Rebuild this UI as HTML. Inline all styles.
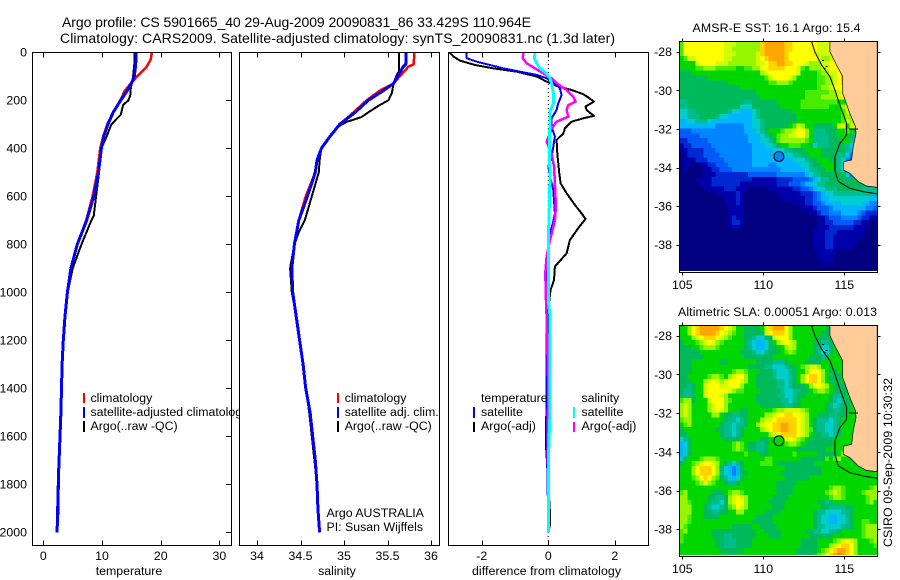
<!DOCTYPE html>
<html>
<head>
<meta charset="utf-8">
<title>Argo profile</title>
<style>
html,body{margin:0;padding:0;background:#fff;}
svg{display:block;font-family:"Liberation Sans",sans-serif;font-size:12.35px;fill:#000;}
.frame{fill:none;stroke:#000;stroke-width:1;shape-rendering:crispEdges;}
.tick{stroke:#000;stroke-width:1;shape-rendering:crispEdges;}
.bar{shape-rendering:crispEdges;}
</style>
</head>
<body>
<svg id="chart" width="900" height="580" viewBox="0 0 900 580" xmlns="http://www.w3.org/2000/svg">
  <defs>
    <clipPath id="clip-sst"><rect x="679.5" y="42" width="198" height="229"/></clipPath>
    <clipPath id="clip-sla"><rect x="679.5" y="326" width="198" height="229"/></clipPath>
    <clipPath id="clip-p1"><rect x="32" y="52" width="199" height="493"/></clipPath>
    <clipPath id="clip-p2"><rect x="239" y="52" width="200" height="493"/></clipPath>
    <clipPath id="clip-p3"><rect x="448" y="52" width="200" height="493"/></clipPath>
  </defs>
  <rect x="0" y="0" width="900" height="580" fill="#fff"/>
  <text x="62" y="27" font-size="14" textLength="469">Argo profile: CS 5901665_40 29-Aug-2009 20090831_86 33.429S 110.964E</text>
  <text x="60" y="43" font-size="14" textLength="555">Climatology: CARS2009. Satellite-adjusted climatology: synTS_20090831.nc (1.3d later)</text>

  <g id="panel-temp">
    <g id="temp-legend">
      <rect class="bar" x="83" y="393" width="2" height="10" fill="#f00"/>
      <text x="90.5" y="402">climatology</text>
      <rect class="bar" x="83" y="407" width="2" height="11" fill="#00f"/>
      <text x="90.5" y="416">satellite-adjusted climatology</text>
      <rect class="bar" x="83" y="421" width="2" height="11" fill="#000"/>
      <text x="90.5" y="430">Argo(..raw -QC)</text>
    </g>
    <g id="temp-marks" clip-path="url(#clip-p1)"></g>
    <rect class="frame" x="32.5" y="52.5" width="199" height="493"/>
    <text x="129" y="575" text-anchor="middle">temperature</text>
  </g>

  <g id="panel-sal">
    <rect x="239.5" y="52.5" width="200" height="493" fill="#fff"/>
    <g id="sal-marks" clip-path="url(#clip-p2)"></g>
    <rect class="frame" x="239.5" y="52.5" width="200" height="493"/>
    <rect class="bar" x="337" y="393" width="2" height="10" fill="#f00"/>
    <text x="344.7" y="402">climatology</text>
    <rect class="bar" x="337" y="407" width="2" height="11" fill="#00f"/>
    <text x="344.7" y="416">satellite adj. clim.</text>
    <rect class="bar" x="337" y="421" width="2" height="11" fill="#000"/>
    <text x="344.7" y="430">Argo(..raw -QC)</text>
    <text x="326.5" y="517">Argo AUSTRALIA</text>
    <text x="326.5" y="531">PI: Susan Wijffels</text>
    <text x="337" y="575" text-anchor="middle">salinity</text>
  </g>

  <g id="panel-diff">
    <rect x="448.5" y="52.5" width="200" height="493" fill="#fff"/>
    <g id="diff-marks" clip-path="url(#clip-p3)"></g>
    <rect class="frame" x="448.5" y="52.5" width="200" height="493"/>
    <text x="481" y="402">temperature</text>
    <rect class="bar" x="473" y="407" width="2" height="11" fill="#00f"/>
    <text x="481" y="416">satellite</text>
    <rect class="bar" x="473" y="422" width="2" height="10" fill="#000"/>
    <text x="481" y="430">Argo(-adj)</text>
    <text x="581.5" y="402">salinity</text>
    <rect class="bar" x="573" y="407" width="2" height="11" fill="#0ff"/>
    <text x="581.5" y="416">satellite</text>
    <rect class="bar" x="573" y="422" width="2" height="10" fill="#f0f"/>
    <text x="581.5" y="430">Argo(-adj)</text>
    <text x="546.5" y="575" text-anchor="middle" textLength="149">difference from climatology</text>
  </g>

  <g id="map-sst">
    <text x="776.5" y="32" text-anchor="middle" textLength="168">AMSR-E SST: 16.1  Argo: 15.4</text>
    <g id="sst-cells" clip-path="url(#clip-sst)"></g>
  </g>
  <g id="map-sla">
    <text x="777.5" y="316" text-anchor="middle" textLength="199">Altimetric SLA: 0.00051  Argo: 0.013</text>
    <g id="sla-cells" clip-path="url(#clip-sla)"></g>
  </g>
  <text transform="translate(892,547) rotate(-90)" textLength="169">CSIRO 09-Sep-2009 10:30:32</text>
</svg>

<script>
// ---------- profile data ----------
const tempDepth = [0,30,60,100,125,160,200,250,300,350,400,500,600,700,800,900,1000,1100,1200,1300,1400,1500,1600,1750,1900,2000];
const tempClim = [18.5,18.3,17.6,16.0,15.1,13.9,13.1,11.9,10.9,10.2,9.7,9.2,8.4,7.3,5.8,4.8,4.1,3.7,3.4,3.2,3.1,3.0,2.85,2.6,2.45,2.35];
const tempSat = [15.8,15.8,15.7,15.5,15.1,14.3,13.2,11.9,11.0,10.3,9.9,9.4,8.6,7.4,5.8,4.7,4.1,3.7,3.4,3.2,3.1,3.0,2.85,2.6,2.45,2.35];
const tempArgoDepth = [0,50,100,125,150,180,200,220,260,300,350,400,500,600,680,700,800,900,1000,1100,1200,1300,1400,1500,1600,1750,1900,2000];
const tempArgo = [15.5,15.5,15.3,15.1,14.9,14.8,14.5,13.6,13.2,11.6,10.8,9.9,9.5,9.0,8.6,8.2,6.5,5.0,4.15,3.7,3.4,3.2,3.1,3.0,2.9,2.65,2.6,2.4];

const salDepth = [0,50,60,100,130,160,200,250,300,350,400,450,500,600,700,800,900,1000,1100,1200,1300,1400,1500,1600,1700,1800,1900,2000];
const salClim = [35.81,35.80,35.74,35.64,35.57,35.41,35.26,35.11,34.95,34.84,34.74,34.69,34.67,34.56,34.48,34.43,34.40,34.41,34.45,34.49,34.53,34.56,34.61,34.64,34.67,34.69,34.70,34.72];
const salSat = [35.71,35.71,35.68,35.62,35.57,35.45,35.28,35.13,34.95,34.84,34.74,34.69,34.67,34.58,34.48,34.43,34.40,34.41,34.45,34.49,34.53,34.56,34.61,34.64,34.67,34.69,34.70,34.72];
const salArgoDepth = [0,80,100,130,170,200,220,250,270,290,310,350,400,450,500,600,700,750,800,900,1000,1100,1200,1300,1400,1500,1600,1700,1800,1900,2000];
const salArgo = [35.63,35.63,35.60,35.57,35.55,35.51,35.41,35.28,35.20,35.03,34.93,34.84,34.74,34.72,34.71,34.63,34.55,34.48,34.43,34.38,34.40,34.45,34.49,34.53,34.56,34.60,34.63,34.66,34.69,34.70,34.72];

const diffTempArgoDepth = [0,18,35,53,67,81,101,122,143,157,174,188,206,226,240,265,275,289,317,338,365,421,504,546,587,636,671,694,733,782,838,893,949,990,1032,1100,1200,1400,1554,1640,1800,1920,1970,2000];
const diffTempArgo = [-2.97,-2.85,-2.65,-2.2,-1.65,-0.95,-0.35,-0.05,0.3,0.7,1.05,1.2,1.37,1.12,1.15,1.37,1.05,0.7,0.5,0.45,0.25,0.27,0.33,0.37,0.55,0.8,1.0,1.12,0.9,0.65,0.55,0.2,0.17,0.07,0.03,0,-0.03,-0.04,-0.07,-0.07,0,0.05,0.05,0];
const diffTempSatDepth = [0,25,39,53,67,81,94,108,129,150,178,212,240,275,310,351,393,435,476,504,574,671,706,754,851,990,1100,1300,1600,1800,2000];
const diffTempSat = [-2.47,-2.45,-2.15,-1.75,-1.35,-0.85,-0.35,-0.05,0.2,0.35,0.4,0.3,0.25,0.1,0.1,0.2,0.15,0.1,0,0.03,0.15,0.2,0.15,0.05,0,-0.05,-0.05,-0.06,-0.05,-0.02,0];
const diffSalArgoDepth = [0,25,46,67,88,108,129,157,185,206,220,240,268,289,317,345,372,421,476,546,643,699,740,782,851,921,1032,1100,1400,1600,1800,2000];
const diffSalArgo = [-0.75,-0.77,-0.65,-0.4,-0.15,0.1,0.25,0.55,0.75,0.82,0.6,0.55,0.6,0.25,0.1,0.03,-0.05,0.1,0.17,0.2,0.23,0.2,0.13,0.05,-0.05,-0.09,-0.07,-0.05,0,-0.02,0,0];
const diffSalSatDepth = [0,25,46,67,88,108,129,171,213,247,296,365,435,504,643,782,1032,1100,1300,1500,1700,2000];
const diffSalSat = [-0.4,-0.42,-0.35,-0.25,-0.05,0.05,0.1,0.15,0.15,0.05,0.05,0.03,0.03,0.05,0.03,0,0,0.05,0.05,0.05,0,0];

// ---------- tick labels ----------
const depthTicks = [0,200,400,600,800,1000,1200,1400,1600,1800,2000];
const tempTicks = [0,10,20,30];
const salTicks = [34,34.5,35,35.5,36];
const diffTicks = [-2,0,2];
const lonTicks = [105,110,115];
const latTicks = [-28,-30,-32,-34,-36,-38];

// ---------- float position ----------
const floatLon = 110.964;
const floatLat = -33.429;

// ---------- coast, isobath and islets (lon, lat) ----------
const coastLon = [114.11,114.11,114.52,114.9,114.9,115.34,115.69,115.72,115.55,115.45,114.97,114.93,115.34,115.86,116.37,117.03,117.03];
const coastLat = [-27.48,-28.0,-28.69,-29.29,-30.16,-31.19,-31.88,-32.23,-32.92,-33.61,-33.70,-34.13,-34.30,-34.73,-34.96,-35.03,-27.48];
const isoLon = [112.98,113.18,113.6,114.11,114.42,114.73,115.14,115.14,114.73,114.42,114.42,114.63,115.34,116.17,117.03];
const isoLat = [-27.48,-28.0,-28.69,-29.29,-29.98,-30.76,-31.71,-32.32,-32.75,-33.44,-34.13,-34.73,-35.08,-35.25,-35.37];
const isletLon = [113.62,113.72,113.85,115.3,115.42,115.55,115.72];
const isletLat = [-28.42,-28.85,-28.75,-31.97,-31.97,-31.97,-31.97];

// ---------- heatmap levels, one character per 0.25 degree cell ----------
const levelColors = {
  '0':'#000080','1':'#0000aa','2':'#0028d2','3':'#005af5','4':'#0084ff','5':'#00b4ff',
  '6':'#00cdcd','7':'#00be8c','8':'#00b95a','9':'#00d700','a':'#46eb00','b':'#96f500',
  'c':'#d2ff00','d':'#ffff00','e':'#ffd200','f':'#ffa500','g':'#ff7800'
};
const sstRows = [
"addddddddddcccbbbbbbefffffeeddddddcccddddddddddd",
"addddddddddccbbbbbbbefffffeeddddddcccddddddddddd",
"addddddddddcccbbbbbcefffffeddddddcccccddddddddd",
"9accdddddddccbbbbbbcdeffffedddddddcbbccddddddd",
"9999cddddcccbbbbbbbccdeeffeedddcbbbccddddddddd",
"9999aabbbaaaaa99aabbddeeeedddca9bbbccdddddd",
"88899999999999999999bcdddddddc9999abbccdeeeee",
"888888899999999999999acddddcb99999aabbcdeeeee",
"8888888888889999999999aabbba999999aabbcdeeeee",
"8888888888888889999999999999999999abbcddddd",
"8888888888888888888999999999999aaaaaabbcddddd",
"8888888888888888888899999999999aaaabbbbcddddd",
"778888888888888877888888999999aaaaaaaaa99ccdddddd",
"778888888888888666888888899999aaaaaaa999bccdddddd",
"6677888888887665556788888888999999999999accbb9999",
"6677788887665555556788888888899999999999abba99999",
"5566777655555555556678888888899999999999acb999999",
"5555555554444444556678888889acb99888889cc9cc99999",
"3334444444444444555678999abbcddb977788899a9899999",
"333334444444444445556789abbccddb97777889998799999",
"223333344444444445556678abbbbbba97777888997699999",
"122333334444444444555667899aaa9986777888876599999",
"1122223334444444445555566677888999988888875499999",
"0122223333444444445555555666778899988887764399999",
"0111222333344444445555555555666788999887643299999",
"0110011223334444445555445555556678899987654399999",
"0100001122333444444444444555555677889987654399999",
"0000001112222222233333334444444567788888864444444",
"0000111122222222221111112222333345677888888888877",
"0000011122222221111111112223334556778888888888877",
"0000001111122211100000111111223345667778888887777",
"0000000001111121000000001111112223456677777777777",
"0000000000011121000000000111111223455666666666655",
"0000000000001121000000000000111223345555666665544",
"0000000000001111000000000000001112333455555555443",
"0000000000001111000000000000000011233444555543222",
"0000000000001211000000000000000000112333444432211",
"0000000000001221000000000000000000112233333221100",
"0000000000000110000000000000000000111222222111000",
"0000000000000000000000000000000001112221111111000",
"0000000000000000000000000000000001112211111110000",
"0000000000000000000000000000000001112211111100000",
"0000000000000000000000000000000001112211111000000",
"0000000000000000000000000000000000111110000000000",
"0000000000000000000000000000000000111100000000000",
"0000000000000000000000000000000000011100000000000",
"0000000000000000000000000000000000000000000000000",
"0000000000000000000000000000000000000000000000000"
];
const slaRows = [
"99bdefffffedcb9988889cefffdb999999998999999999999",
"99bdeffffedcba9988888cdeeedb999999988999999999999",
"999bcdeeedcba9998876688cdddb999999888999999999999",
"8999abcdcba9999987655689bcdcb99998877899999999999",
"88899abbba9999998765568899bcb99998766899999999999",
"88888999999999988876678889aba99998766899999999999",
"88888899999999998888888999999999888789999999999",
"888999999988999999988887778999988889999999999999",
"888999999999999998888776667889abccb99899999999999",
"8889999999999abba99988876667899bdddb9889999999999",
"8899999abba9bcddb9988887666789bdeedb9888999999999",
"888999bcdcbcdddcb9988888776789bdeedb9888999999999",
"887899cdddccdddb9998888877678889bddcb988899999999",
"877899cdddddcbaa99998888876677889abba988889999999",
"877899cdddcb99999998888877667889999998778999999",
"abb8999cdddba99999988888877678999999987678899999",
"bcb9999bcddb99999999888888778899999987678899999",
"bcb9999bcdcb99988999999abbccccba99998877889999999",
"bcb99999bb98877889999bbcddeeddcb9988877889999999",
"abb99999999877678999bccdeeeeedcb987776789999999",
"9ab9999999877677899bcddeeffeedcb987766789999999",
"89999999988776789999bcdeeffeedcba87766789999999",
"8899999999877678999999bcdeeeedcb9887767899999999",
"678999999998888999998899abcdcba98888889999999",
"5689999999999aba9887789999abba9888888899999999",
"5689999999999aba988778999999988888889999999999",
"5689999999999999a99988999999a99999888889bb99999",
"68999abbba99999999999aa9999999888888a9ab999999",
"899abcddcb9876789999aaa98888888889999999999",
"999bdeeedb865458999999999988888888899999999999999",
"999bdeeedb765458899999999888888888899999999999999",
"999abdedba876568999999999988888899999999999999999",
"9999abcba99877899999999988888999999999999999999",
"9999999999999999999999998888999999999abba999999ab",
"ab9999998889abba99999999888899999999abcba9999abbb",
"bb9999988778bcdcb99999988889999999999abba99999abb",
"bba999987768bcddb99999888899999999887899999999ab9",
"bbb999876678abdcb999999888999999999887777889999999",
"bbb99988778899bb999998888999999998776666778999999",
"bba99988889999999998888999999999987665566789999999",
"bba999999999999999888889999999999876655667899aa99",
"ba9999999999988888998888999999999877666677899abbb",
"ab9999998888888888899888899999988776677899999abb",
"a99999998887788888899988899999998888889999999abb",
"a9999999988777888899999999999988889999abcdcb999ab",
"9999999998877788889999999999998888999bcdeedb9999a",
"99999999998888889999999999999888889abdeffedb99999",
"9999999999998899999999999999988889abdefgfedb99999"
];

// ---------- axis functions ----------
const NS = 'http://www.w3.org/2000/svg';
function depthY(d){ return 52.3 + 0.24 * d; }
function tempX(v){ return 43.3 + 5.87 * v; }
function salX(v){ return 257 + 87 * (v - 34); }
function diffX(v){ return 548.3 + 33.25 * v; }
function lonX(lon){ return 682.3 + 16.2 * (lon - 105); }
function sstY(lat){ return 51.7 + 19.3 * (-28 - lat); }
function slaY(lat){ return 335.7 + 19.35 * (-28 - lat); }

function make(tag, parent, attrs){
  const el = document.createElementNS(NS, tag);
  for (const k in attrs) el.setAttribute(k, attrs[k]);
  parent.appendChild(el);
  return el;
}

function drawLine(parent, name, depths, values, xFn, color, width){
  const pts = depths.map(function(d, i){ return xFn(values[i]).toFixed(1) + ',' + depthY(d).toFixed(1); }).join(' ');
  const el = make('polyline', parent, {points: pts, fill: 'none', stroke: color, 'stroke-width': width, 'shape-rendering': 'crispEdges', 'stroke-linejoin': 'round'});
  
  
}

function drawXTicks(parent, name, ticks, xFn, baseline, top, bottom){
  ticks.forEach(function(t){
    const x = Math.round(xFn(t)) + 0.5;
    const a = make('line', parent, {x1: x, x2: x, y1: top, y2: top + 5, class: 'tick'});
    
    
    const b = make('line', parent, {x1: x, x2: x, y1: bottom - 5, y2: bottom, class: 'tick'});
    
    
    const l = make('text', parent, {x: xFn(t), y: baseline, 'text-anchor': 'middle'});
    l.textContent = String(t);
    
    
  });
}

// ---------- profile panels ----------
const panelTemp = document.getElementById('panel-temp');
const panelSal = document.getElementById('panel-sal');
const panelDiff = document.getElementById('panel-diff');
const tempMarks = document.getElementById('temp-marks');
const salMarks = document.getElementById('sal-marks');
const diffMarks = document.getElementById('diff-marks');

drawLine(tempMarks, 'temperature-climatology-line', tempDepth, tempClim, tempX, '#f00', 2.5);
drawLine(tempMarks, 'temperature-argo-line', tempArgoDepth, tempArgo, tempX, '#000', 2);
drawLine(tempMarks, 'temperature-satellite-line', tempDepth, tempSat, tempX, '#00f', 3);

drawLine(salMarks, 'salinity-climatology-line', salDepth, salClim, salX, '#f00', 2.5);
drawLine(salMarks, 'salinity-argo-line', salArgoDepth, salArgo, salX, '#000', 2);
drawLine(salMarks, 'salinity-satellite-line', salDepth, salSat, salX, '#00f', 3);

const zeroLine = make('line', diffMarks, {x1: diffX(0), x2: diffX(0), y1: 52, y2: 545, stroke: '#000', 'stroke-width': 1, 'stroke-dasharray': '1 3'});


drawLine(diffMarks, 'difference-temp-argo-line', diffTempArgoDepth, diffTempArgo, diffX, '#000', 2);
drawLine(diffMarks, 'difference-temp-satellite-line', diffTempSatDepth, diffTempSat, diffX, '#00f', 2);
drawLine(diffMarks, 'difference-sal-argo-line', diffSalArgoDepth, diffSalArgo, diffX, '#f0f', 2.5);
drawLine(diffMarks, 'difference-sal-satellite-line', diffSalSatDepth, diffSalSat, diffX, '#0ff', 3);

drawXTicks(panelTemp, 'temperature-axis', tempTicks, tempX, 560, 52.5, 545.5);
drawXTicks(panelSal, 'salinity-axis', salTicks, salX, 560, 52.5, 545.5);
drawXTicks(panelDiff, 'difference-axis', diffTicks, diffX, 560, 52.5, 545.5);

depthTicks.forEach(function(d){
  const y = Math.round(depthY(d)) + 0.5;
  const l = make('text', panelTemp, {x: 27, y: depthY(d) + 4, 'text-anchor': 'end'});
  l.textContent = String(d);
  
  
  const t = make('line', panelTemp, {x1: 226, x2: 231.5, y1: y, y2: y, class: 'tick'});
  
  
});

// ---------- maps ----------
function drawMap(cellsId, mapId, rows, latFn, prefix, left, right, top, bottom, xBaseline, dotFill){
  const cells = document.getElementById(cellsId);
  const map = document.getElementById(mapId);
  const gridLon0 = 104.81;
  const gridLat0 = -27.48;
  rows.forEach(function(row, r){
    const padded = row.padEnd(49, row[row.length - 1]).slice(0, 49);
    for (let c = 0; c < 49; c++){
      const x0 = lonX(gridLon0 + c * 0.25);
      const x1 = lonX(gridLon0 + (c + 1) * 0.25);
      const y0 = latFn(gridLat0 - r * 0.25);
      const y1 = latFn(gridLat0 - (r + 1) * 0.25);
      const el = make('rect', cells, {x: x0.toFixed(2), y: y0.toFixed(2), width: (x1 - x0 + 0.4).toFixed(2), height: (y1 - y0 + 0.4).toFixed(2), fill: levelColors[padded[c]], 'shape-rendering': 'crispEdges'});
      
      
    }
  });
  const land = make('polygon', cells, {points: coastLon.map(function(v, i){ return lonX(v).toFixed(1) + ',' + latFn(coastLat[i]).toFixed(1); }).join(' '), fill: '#ffcc99', stroke: '#000', 'stroke-width': 0.7});
  
  
  const iso = make('polyline', cells, {points: isoLon.map(function(v, i){ return lonX(v).toFixed(1) + ',' + latFn(isoLat[i]).toFixed(1); }).join(' '), fill: 'none', stroke: '#000', 'stroke-width': 1});
  
  
  isletLon.forEach(function(v, i){
    const islet = make('rect', cells, {x: lonX(v).toFixed(1), y: latFn(isletLat[i]).toFixed(1), width: 2, height: 1, fill: '#000', 'shape-rendering': 'crispEdges'});
    
    
  });
  const dot = make('circle', cells, {cx: lonX(floatLon), cy: latFn(floatLat), r: 5, fill: dotFill, stroke: '#000', 'stroke-width': 1});
  
  
  const frame = make('rect', map, {x: left, y: top, width: right - left, height: bottom - top, class: 'frame'});
  
  
  lonTicks.forEach(function(t){
    const x = Math.round(lonX(t)) + 0.5;
    const a = make('line', map, {x1: x, x2: x, y1: top - 3, y2: top, class: 'tick'});
    
    
    const b = make('line', map, {x1: x, x2: x, y1: bottom, y2: bottom + 3, class: 'tick'});
    
    
    const l = make('text', map, {x: lonX(t), y: xBaseline, 'text-anchor': 'middle'});
    l.textContent = String(t);
    
    
  });
  latTicks.forEach(function(t){
    const y = Math.round(latFn(t)) + 0.5;
    const a = make('line', map, {x1: left - 3, x2: left, y1: y, y2: y, class: 'tick'});
    
    
    const b = make('line', map, {x1: right, x2: right + 3, y1: y, y2: y, class: 'tick'});
    
    
    const l = make('text', map, {x: 672, y: latFn(t) + 4.5, 'text-anchor': 'end'});
    l.textContent = String(t);
    
    
  });
}

drawMap('sst-cells', 'map-sst', sstRows, sstY, 'sst', 679.5, 877.5, 41.5, 272.5, 289, '#0084ff');
drawMap('sla-cells', 'map-sla', slaRows, slaY, 'sla', 679.5, 877.5, 325.5, 556.5, 573, '#00d700');
</script>
</body>
</html>
